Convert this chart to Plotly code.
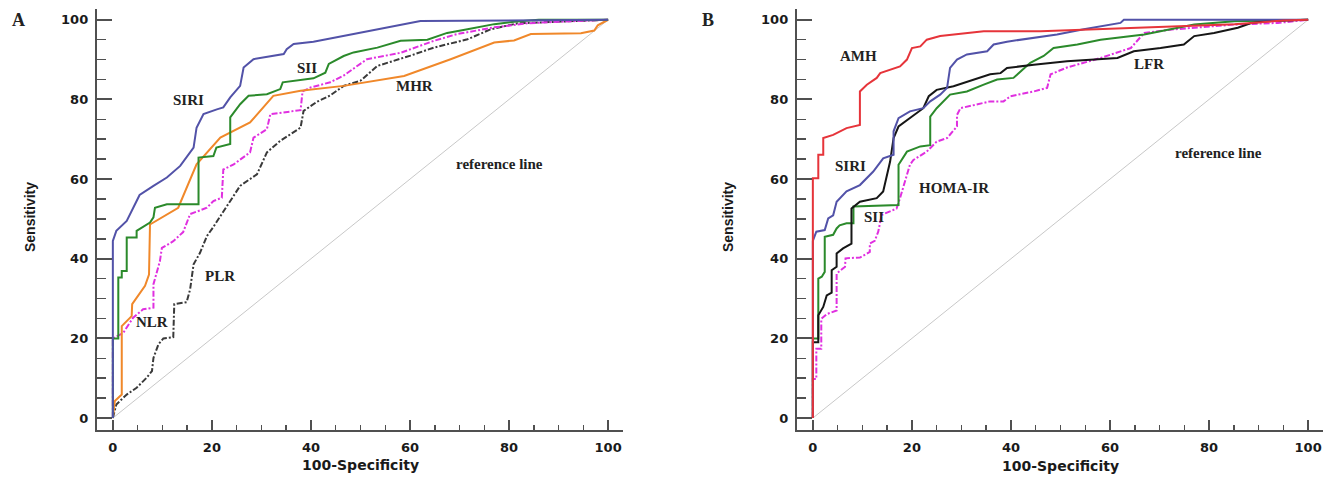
import plotly.graph_objects as go

# ---------------- Panel A data ----------------
siri_a_x = [0, 0, 0.7, 2.8, 4.8, 5.4, 8.2, 10.9, 13.6, 14.9, 16.3, 16.9, 18.3, 21, 22.3, 23.7, 25.7, 26.4, 28.4, 34.5, 35.1, 36.5, 40.5, 48.6, 62.1, 100]
siri_a_y = [0, 44.5, 47, 49.5, 54.5, 56, 58.3, 60.4, 63.3, 65.4, 67.9, 72.9, 76.3, 77.5, 78, 80.5, 83.4, 88, 90.1, 91.4, 92.6, 93.9, 94.5, 96.4, 99.7, 100]

sii_a_x = [0, 0, 1.1, 1.1, 1.8, 1.8, 2.8, 2.8, 4.8, 4.8, 7.5, 8.2, 8.5, 10.9, 17.3, 17.3, 20.3, 20.9, 23.7, 23.7, 25.7, 27.4, 31.1, 33.8, 34.3, 40.5, 42.9, 43.6, 46.6, 48.6, 53.4, 58.1, 63.5, 67.5, 71.6, 77, 81, 86, 100]
sii_a_y = [0, 20, 20, 35.3, 35.3, 36.9, 36.9, 45.3, 45.3, 47, 49.1, 50.4, 52.8, 53.7, 53.7, 65.4, 65.8, 67.9, 68.8, 75.5, 78.8, 80.9, 81.3, 82.6, 84.3, 85.3, 86.7, 88.9, 90.9, 91.8, 93, 94.7, 95, 96.7, 97.6, 98.9, 99.5, 100, 100]

mhr_a_x = [0, 0.4, 1.8, 1.8, 3.8, 3.9, 6.5, 7.3, 7.5, 13.2, 16.9, 21.7, 27.7, 32.4, 37.9, 46.6, 58.8, 68.2, 77, 81, 84.4, 94.5, 97.2, 97.9, 100]
mhr_a_y = [0, 4.3, 5.9, 23.1, 25.6, 28.6, 33.2, 36, 48.6, 52.8, 63.7, 70.4, 74.2, 80.9, 82.2, 83.4, 85.9, 90.1, 94.3, 94.8, 96.4, 96.6, 97.3, 98.6, 100]

nlr_a_x = [0, 0, 2.1, 4.1, 6.1, 8.2, 8.2, 9.5, 9.9, 12.2, 14.2, 15.6, 19, 20.3, 22, 22.3, 24.4, 27.7, 28.4, 31.1, 31.8, 37.9, 38.3, 39.9, 43.9, 46.6, 51.3, 58.1, 64.8, 69.5, 77, 83.7, 90, 100]
nlr_a_y = [0, 20, 21.4, 25.2, 27.3, 27.7, 33.6, 39.4, 42.7, 44.4, 46.7, 51.2, 52.8, 54.5, 55.3, 62.4, 63.7, 66.7, 70.4, 72.5, 76.3, 77.3, 82, 83, 84.3, 86, 90.1, 91.7, 94.7, 96.4, 98.1, 99.1, 99.5, 100]

plr_a_x = [0, 0.7, 2.8, 4.8, 6.8, 7.9, 8.2, 9.2, 10.2, 12.2, 12.4, 14.9, 15.6, 16.3, 17.6, 19, 20.3, 23.7, 25.7, 29.1, 31.1, 33.8, 37.9, 38.5, 41.2, 43.9, 46.6, 50, 53.4, 60.1, 64.8, 71.6, 76.3, 81.7, 100]
plr_a_y = [0, 3.4, 5.9, 7.6, 10.1, 11.8, 15.1, 18.5, 20, 20.3, 28.6, 29.1, 32.3, 38.6, 41.5, 45.7, 48, 54.5, 58.3, 61.2, 66.7, 69.6, 72.9, 77.1, 79.4, 81, 83.4, 84.7, 88.4, 91, 93, 95.1, 97.6, 99.1, 100]

# ---------------- Panel B data ----------------
amh_b_x = [0, 0, 1.1, 1.1, 2.1, 2.1, 4.1, 6.8, 9.5, 9.5, 10.9, 12.9, 13.6, 15.6, 17.6, 19, 20, 21.7, 23, 25.7, 29.1, 34.5, 46, 58.1, 68.9, 85.1, 95, 100]
amh_b_y = [0, 60.2, 60.2, 66.1, 66.1, 70.3, 71.1, 72.8, 73.6, 82, 83.7, 85.4, 86.6, 87.5, 88.3, 90, 92.9, 93.3, 95, 95.9, 96.3, 97.1, 97.1, 97.6, 98.1, 98.9, 99.8, 100]

siri_b_x = [0, 0, 0.7, 2.4, 3.1, 4.1, 4.8, 6.8, 9.5, 12.2, 14.2, 16.3, 16.3, 17.3, 19.6, 22.3, 23.7, 25.7, 27.1, 27.7, 29.1, 31.1, 35.2, 36.5, 39.2, 41.9, 49.3, 54.7, 62.1, 62.8, 100]
siri_b_y = [0, 44.5, 46.8, 47.2, 50.1, 50.9, 54.3, 56.9, 58.5, 61.9, 65.2, 66.1, 72, 75.3, 77, 77.8, 79.5, 81.2, 82.9, 87.9, 90, 91.3, 92.1, 93.8, 94.5, 95, 96.3, 97.6, 99.2, 100, 100]

sii_b_x = [0, 0, 1.1, 1.1, 1.8, 2.4, 2.4, 4.1, 4.8, 5.4, 6.8, 8.2, 8.2, 17.3, 17.3, 19, 21.7, 23.7, 23.7, 25, 27.7, 31.1, 34.5, 37.2, 40.5, 43.9, 46.6, 48.6, 53.4, 58.1, 66.9, 77, 85.1, 100]
sii_b_y = [0, 20, 20, 35, 35.5, 36.7, 45.5, 46, 47.6, 48.4, 48.9, 48.9, 53.1, 53.5, 63.6, 66.9, 68.2, 68.5, 75.7, 77.8, 81.2, 82, 83.7, 85, 85.4, 89.2, 90.9, 92.9, 93.8, 95, 96.3, 98.8, 99.6, 100]

lfr_b_x = [0, 0, 1.1, 1.1, 2.1, 2.8, 3.8, 3.8, 4.8, 4.8, 6.1, 7.8, 7.8, 9.5, 12.9, 14.2, 15.6, 16.3, 17.3, 19.6, 22.3, 23.4, 25, 28.4, 32.4, 35.8, 37.9, 39.2, 44.6, 51.3, 61.5, 64.8, 70.2, 74.9, 77, 81, 85.8, 88.5, 91.9, 100]
lfr_b_y = [0, 19, 19, 25.8, 27.9, 30.8, 31.5, 37.1, 38, 41.3, 42.6, 43.8, 52.6, 54.3, 55.2, 56.9, 64.4, 70.3, 73.2, 75.3, 77.8, 80.8, 82.4, 83.3, 85, 86.3, 86.6, 87.9, 88.7, 89.6, 90.4, 92.1, 92.9, 93.8, 95.9, 96.7, 98, 99.2, 99.7, 100]

homa_b_x = [0, 0, 0.7, 0.7, 1.7, 1.7, 2.8, 4.8, 4.8, 6.5, 6.6, 9.5, 11.5, 11.5, 12.5, 13.2, 13.9, 16.9, 17.6, 19.6, 20.3, 23, 25, 27.1, 29.1, 29.1, 29.8, 35.8, 38.5, 39.9, 44.6, 47.3, 48, 51.3, 58.1, 64.2, 66.9, 73, 85.1, 93.9, 100]
homa_b_y = [0, 9.8, 9.8, 17.4, 17.4, 24.9, 26.1, 27, 36.3, 38, 40.1, 40.3, 41.7, 43.8, 44.5, 46.8, 51, 52.6, 55.2, 63.6, 64.8, 66.9, 69.4, 70.3, 73.2, 76.1, 77.8, 79.5, 79.5, 80.8, 82, 82.9, 86.3, 88, 90.4, 92.9, 96.7, 97.6, 98.8, 99.2, 100]

ref_x = [0, 100]
ref_y = [0, 100]

tick_vals = [0, 20, 40, 60, 80, 100]
tick_text = ["0", "20", "40", "60", "80", "100"]

C_BLUE = "#5252a8"
C_GREEN = "#2b8a2b"
C_ORANGE = "#f0882a"
C_MAGENTA = "#e030e0"
C_DGRAY = "#3a3a3a"
C_RED = "#e6343a"
C_BLACK = "#161616"
C_REF = "#c8c8c8"
DASHDOT = "6px,2px,2px,2px"

fig = go.Figure()

def add(x, y, color, xa, ya, dash="solid", width=2):
    fig.add_trace(go.Scatter(x=x, y=y, mode="lines", xaxis=xa, yaxis=ya,
                             line=dict(color=color, width=width, dash=dash),
                             showlegend=False, hoverinfo="skip"))

# Panel A
add(ref_x, ref_y, C_REF, "x", "y", width=1)
add(plr_a_x, plr_a_y, C_DGRAY, "x", "y", dash=DASHDOT)
add(nlr_a_x, nlr_a_y, C_MAGENTA, "x", "y", dash=DASHDOT)
add(mhr_a_x, mhr_a_y, C_ORANGE, "x", "y")
add(sii_a_x, sii_a_y, C_GREEN, "x", "y")
add(siri_a_x, siri_a_y, C_BLUE, "x", "y")

# Panel B
add(ref_x, ref_y, C_REF, "x2", "y2", width=1)
add(homa_b_x, homa_b_y, C_MAGENTA, "x2", "y2", dash=DASHDOT)
add(sii_b_x, sii_b_y, C_GREEN, "x2", "y2")
add(lfr_b_x, lfr_b_y, C_BLACK, "x2", "y2")
add(siri_b_x, siri_b_y, C_BLUE, "x2", "y2")
add(amh_b_x, amh_b_y, C_RED, "x2", "y2")

W, H = 1332, 479
AXC = "#505050"
tickfont = dict(family="DejaVu Sans", size=13, color="#1a1a1a", weight="bold")

def xaxis(domain, anchor):
    return dict(domain=domain, anchor=anchor, range=[-3.2, 103], showgrid=False, zeroline=False,
                showline=True, linecolor=AXC, linewidth=2.2, ticks="inside", ticklen=10,
                tickwidth=2, tickcolor=AXC, tickvals=tick_vals, ticktext=tick_text,
                tickfont=tickfont, ticklabelstandoff=4,
                minor=dict(ticks="inside", ticklen=5, tickwidth=1.5, tickcolor=AXC, dtick=5, tick0=0),
                automargin=False, fixedrange=True)

def yaxis(domain, anchor):
    return dict(domain=domain, anchor=anchor, range=[-3, 102.7], showgrid=False, zeroline=False,
                showline=True, linecolor=AXC, linewidth=2.2, ticks="inside", ticklen=15,
                tickwidth=2, tickcolor=AXC, tickvals=tick_vals, ticktext=tick_text,
                tickfont=tickfont, ticklabelstandoff=4,
                minor=dict(ticks="inside", ticklen=9, tickwidth=1.5, tickcolor=AXC, dtick=5, tick0=0),
                automargin=False, fixedrange=True)

ydom = [1 - 430 / H, 1 - 9 / H]
fig.update_layout(
    width=W, height=H, margin=dict(l=0, r=0, t=0, b=0, pad=0),
    plot_bgcolor="white", paper_bgcolor="white",
    xaxis=xaxis([97 / W, 623 / W], "y"),
    yaxis=yaxis(ydom, "x"),
    xaxis2=xaxis([797 / W, 1323 / W], "y2"),
    yaxis2=yaxis(ydom, "x2"),
)

serif = dict(family="Liberation Serif", size=15, color="#222222", weight="bold")
sans_title = dict(family="Liberation Sans", size=14, color="#1a1a1a", weight="bold")

ann = []
def lab(text, x, y, xr, yr, font=serif):
    ann.append(dict(text=text, x=x, y=y, xref=xr, yref=yr, showarrow=False,
                    xanchor="center", yanchor="middle", font=font))

# Panel A labels
lab("SIRI", 15.2, 79.8, "x", "y")
lab("SII", 39.1, 87.8, "x", "y")
lab("MHR", 60.9, 83.3, "x", "y")
lab("reference line", 78.1, 63.9, "x", "y")
lab("PLR", 21.7, 35.6, "x", "y")
lab("NLR", 8.0, 24.2, "x", "y")
# Panel B labels
lab("AMH", 9.3, 90.9, "x2", "y2")
lab("SIRI", 7.5, 63.2, "x2", "y2")
lab("HOMA-IR", 28.5, 57.8, "x2", "y2")
lab("SII", 12.3, 50.6, "x2", "y2")
lab("LFR", 67.9, 88.8, "x2", "y2")
lab("reference line", 81.8, 66.6, "x2", "y2")

# Panel letters
panel_font = dict(family="Liberation Serif", size=18, color="#222222", weight="bold")
lab("A", 18 / W, 1 - 20.5 / H, "paper", "paper", panel_font)
lab("B", 708 / W, 1 - 20.5 / H, "paper", "paper", panel_font)

# Axis titles
lab("Sensitivity", 30 / W, 1 - 217 / H, "paper", "paper", sans_title)
ann[-1]["textangle"] = -90
lab("Sensitivity", 728 / W, 1 - 217 / H, "paper", "paper", sans_title)
ann[-1]["textangle"] = -90
xt_font = dict(family="DejaVu Sans", size=14, color="#1a1a1a", weight="bold")
lab("100-Specificity", 360 / W, 1 - 465 / H, "paper", "paper", xt_font)
lab("100-Specificity", 1060 / W, 1 - 466 / H, "paper", "paper", xt_font)

fig.update_layout(annotations=ann)
fig.write_html("out.html", config={"displayModeBar": False, "staticPlot": True},
               post_script="document.body.style.margin='0px';document.body.style.overflow='hidden';")
